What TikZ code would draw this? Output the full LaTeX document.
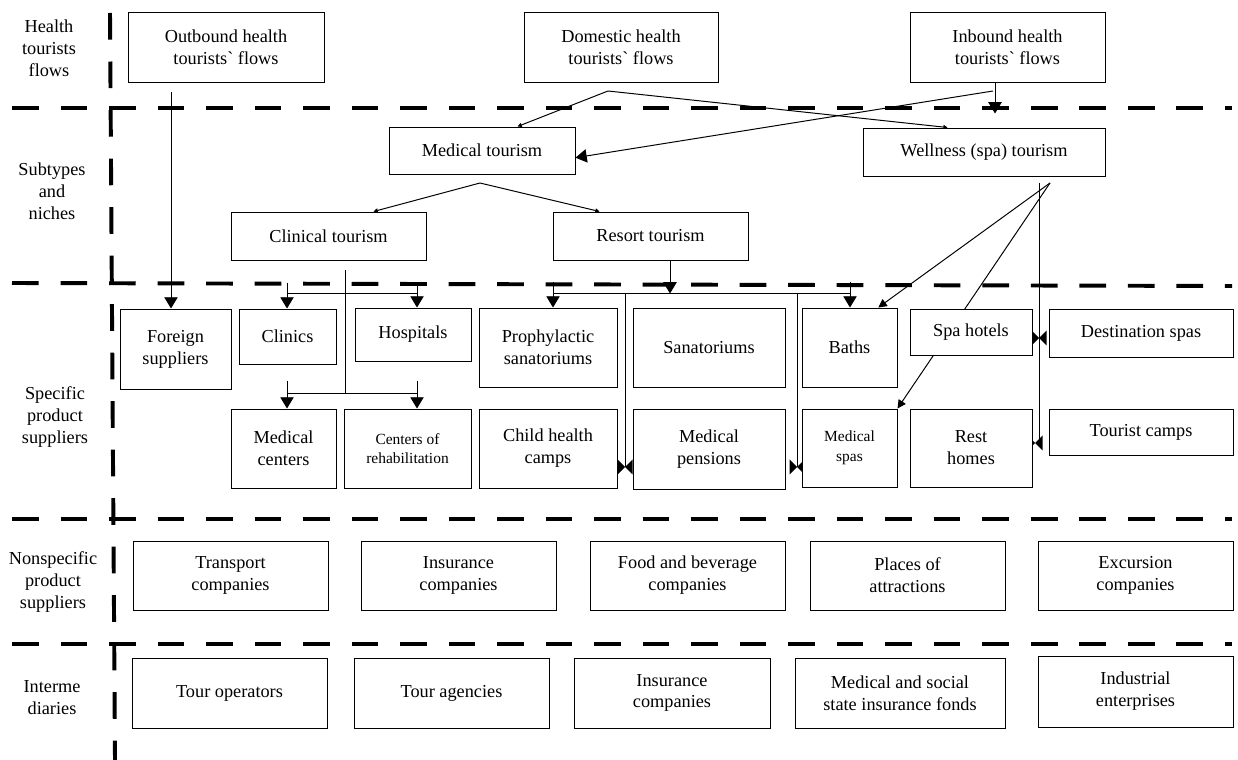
\documentclass[tikz,border=0pt]{standalone}
\usepackage{fontspec}
\setmainfont{Liberation Serif}
\usetikzlibrary{arrows.meta,calc,backgrounds}

\tikzset{
  box/.style={draw, fill=white, inner sep=0pt, line width=0.7pt, align=center,
    font=\fontsize{13}{15.5}\selectfont},
  smallbox/.style={box, font=\fontsize{11}{14}\selectfont},
  sz/.style 2 args={minimum width=#1*0.025cm, minimum height=#2*0.025cm},
  lbl/.style={align=center, inner sep=0pt, font=\fontsize{13}{15.5}\selectfont},
  lane/.style={line width=2.8pt, dash pattern=on 19pt off 15.5pt},
  link/.style={line width=0.7pt},
  arr/.style={link, -{Triangle[length=8pt,width=9.5pt]}},
  midarr/.style={link, -{Triangle[length=6pt,width=6pt]}},
  tinyarr/.style={link, -{Triangle[length=3pt,width=3pt]}},
  tiemark/.pic={\fill (-7.5,-7.5) -- (7.5,7.5) -- (7.5,-7.5) -- (-7.5,7.5) -- cycle;}
}

\begin{document}
\begin{tikzpicture}[x=0.025cm, y=-0.025cm]
\useasboundingbox (0,0) rectangle (1238,760);

% row labels
\node[lbl] (hFlows) at (49,48) {Health\\tourists\\flows};
\node[lbl] (hSub) at (52,191) {Subtypes\\and\\niches};
\node[lbl] (hSpec) at (55,417) {Specific\\product\\suppliers};
\node[lbl] (hNon) at (53,582) {Nonspecific\\product\\suppliers};
\node[lbl] (hInt) at (52,698) {Interme\\diaries};

% flows
\node[box, sz={196}{70}] (outb) at (226,47) {Outbound health\\tourists\textasciigrave{} flows};
\node[box, sz={194}{70}] (dom) at (621,47) {Domestic health\\tourists\textasciigrave{} flows};
\node[box, sz={195}{70}] (inb) at (1007.5,47) {Inbound health\\tourists\textasciigrave{} flows};

% subtypes
\node[box, sz={186}{47}] (med) at (482,150.5) {Medical tourism};
\node[box, sz={242}{48}] (well) at (984,152) {Wellness (spa) tourism};
\node[box, sz={195}{48}] (clin) at (328.5,236) {Clinical tourism};
\node[box, sz={195}{48}] (res) at (650.5,236) {Resort tourism};

% specific suppliers
\node[box, sz={111}{80}] (forg) at (175.5,349) {Foreign\\suppliers};
\node[box, sz={97}{55}] (clinics) at (287.5,336.5) {Clinics};
\node[box, sz={116}{53}] (hosp) at (413,334.5) {Hospitals};
\node[box, sz={138}{79}] (proph) at (548,347.5) {Prophylactic\\sanatoriums};
\node[box, sz={152}{79}] (sana) at (709,347.5) {Sanatoriums};
\node[box, sz={95}{79}] (baths) at (849.5,347.5) {Baths};
\node[box, sz={122}{46}] (spah) at (971,332) {Spa hotels};
\node[box, sz={184}{48}] (dest) at (1141,333) {Destination spas};
\node[box, sz={105}{79}] (mcen) at (283.5,448.5) {Medical\\centers};
\node[smallbox, sz={127}{79}] (rehab) at (407.5,448.5) {Centers of\\rehabilitation};
\node[box, sz={138}{79}] (chc) at (548,448.5) {Child health\\camps};
\node[box, sz={152}{80}] (mpen) at (709,449) {Medical\\pensions};
\node[smallbox, sz={95}{78}] (mspa) at (849.5,448) {Medical\\spas};
\node[box, sz={122}{78}] (rest) at (971,448) {Rest\\homes};
\node[box, sz={184}{46}] (tcamp) at (1141,432) {Tourist camps};

% nonspecific suppliers
\node[box, sz={195}{69}] (trans) at (230.5,575.5) {Transport\\companies};
\node[box, sz={195}{69}] (ins) at (458.5,575.5) {Insurance\\companies};
\node[box, sz={195}{69}] (food) at (687.5,575.5) {Food and beverage\\companies};
\node[box, sz={195}{69}] (place) at (907.5,575.5) {Places of\\attractions};
\node[box, sz={195}{69}] (exc) at (1135.5,575.5) {Excursion\\companies};

% intermediaries
\node[box, sz={195}{70}] (tourop) at (229.5,693) {Tour operators};
\node[box, sz={195}{70}] (touag) at (451.5,693) {Tour agencies};
\node[box, sz={196}{70}] (insb) at (672,693) {Insurance\\companies};
\node[box, sz={210}{70}] (msoc) at (900,693) {Medical and social\\state insurance fonds};
\node[box, sz={195}{71}] (indu) at (1135.5,691.5) {Industrial\\enterprises};

\begin{scope}[on background layer]
\fill[white] (0,0) rectangle (1238,760);

% lanes
\draw[lane] (12,108) -- (1232,108);
\draw[lane] (12,283) -- (1232,286);
\draw[lane] (12,519) -- (1232,519);
\draw[lane] (12,644) -- (1232,644);
\draw[lane] (110,13) -- (115,760);

% outbound
\coordinate (outFoot) at (171,92);
\draw[arr] (outFoot) -- (outFoot |- forg.north);

% domestic
\coordinate (domFoot) at (608,91);
\draw[tinyarr] (domFoot) -- ($(med.north west)!.69!(med.north east)$);
\draw[tinyarr] (domFoot) -- ($(well.north west)!.35!(well.north east)$);

% inbound
\coordinate (inbFoot) at (inb.south -| 995,0);
\draw[arr] (inbFoot) -- ++(0,31);
\coordinate (inbKnee) at (993,91);
\draw[arr] (inbKnee) -- ($(med.north east)!.65!(med.south east)$);

% medical
\coordinate (medFoot) at (480,183);
\draw[tinyarr] (medFoot) -- ($(clin.north west)!.73!(clin.north east)$);
\draw[tinyarr] (medFoot) -- ($(res.north west)!.24!(res.north east)$);

% clinical
\coordinate (clinFoot) at (345,270);
\coordinate (cL) at (287,293);
\coordinate (cR) at (417,293);
\coordinate (dL) at (287,393);
\coordinate (dR) at (417,393);
\draw[link] (clinFoot) -- (clinFoot |- dL);
\draw[link] (cL) -- (cR);
\draw[link] (dL) -- (dR);
\draw[arr] (cL) ++(0,-10) -- (cL |- clinics.north);
\draw[arr] (cR) ++(0,-10) -- (cR |- hosp.north);
\draw[arr] (dL) ++(0,-12) -- (dL |- mcen.north);
\draw[arr] (dR) ++(0,-12) -- (dR |- rehab.north);

% resort
\coordinate (resFoot) at (res.south -| 670,0);
\draw[arr] (resFoot) -- ++(0,33);
\coordinate (rL) at (553,293);
\coordinate (rR) at (850,293);
\coordinate (rA) at (625,293);
\coordinate (rB) at (797,293);
\draw[link] (rL) -- (rR);
\draw[arr] (rL) ++(0,-11) -- (rL |- proph.north);
\draw[arr] (rR) ++(0,-11) -- (rR |- baths.north);
\draw[link] (rA) -- (rA |- 0,467);
\draw[link] (rB) -- (rB |- 0,467);
\pic at (rA |- 0,467) {tiemark};
\pic at (rB |- 0,467) {tiemark};

% wellness
\coordinate (wellFoot) at (1050,183);
\coordinate (wellDrop) at (1039,183);
\draw[midarr] (wellFoot) -- ($(baths.north west)!.8!(baths.north east)$);
\draw[midarr] (wellFoot) -- (mspa.north east);
\draw[link] (wellDrop) -- (wellDrop |- 0,443);
\pic at (wellDrop |- 0,338) {tiemark};
\pic at (1035,443) {tiemark};
\end{scope}
\end{tikzpicture}
\end{document}
